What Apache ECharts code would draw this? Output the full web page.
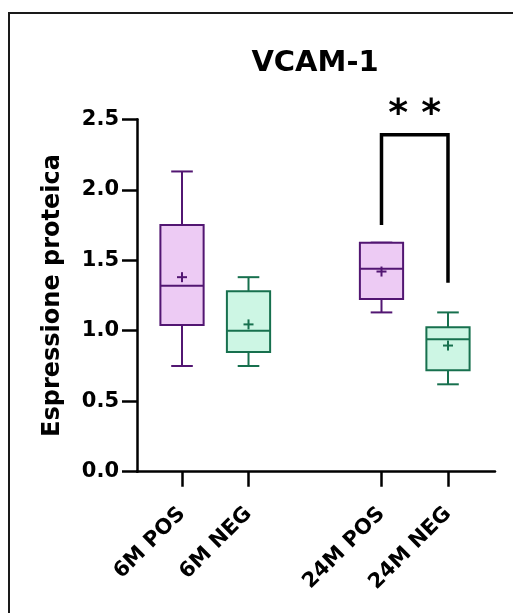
<!DOCTYPE html>
<html>
<head>
<meta charset="utf-8">
<script src="https://cdn.jsdelivr.net/npm/echarts@6/dist/echarts.min.js"></script>
<style>
html,body{margin:0;padding:0;background:#fff;}
#chart{width:513px;height:613px;}
</style>
</head>
<body>
<div id="chart"></div>
<script>
// ---- data ----
const categories = ['6M POS', '6M NEG', '24M POS', '24M NEG'];
const positions  = [0, 1, 3, 4];
const mins    = [0.75, 0.75, 1.13, 0.62];
const q1s     = [1.04, 0.85, 1.225, 0.72];
const medians = [1.32, 1.00, 1.44, 0.94];
const q3s     = [1.75, 1.28, 1.625, 1.025];
const maxs    = [2.13, 1.38, 1.625, 1.13];
const means   = [1.38, 1.045, 1.42, 0.895];
const groupOfBox = [0, 1, 0, 1];
const yTicks = [0, 0.5, 1.0, 1.5, 2.0, 2.5];
// significance bracket: x positions (left,right), y values (left end, top, right end)
const bracketX = [3, 4];
const bracketY = [1.75, 2.39, 1.34];
const bracketLabel = '* *';

const FONT = 'DejaVu Sans';
const strokeColors = ['#521672', '#17704E'];
const fillColors   = ['#EDCBF4', '#CDF6E4'];

const boxData = positions.map((p, i) => [p, mins[i], q1s[i], medians[i], q3s[i], maxs[i], means[i], groupOfBox[i]]);

const chart = echarts.init(document.getElementById('chart'), null, {renderer: 'canvas'});

function renderBox(params, api) {
  const x = api.value(0);
  const g = api.value(7);
  const stroke = strokeColors[g], fill = fillColors[g];
  const unit = api.size([1, 0])[0];
  const hw = unit * 0.325;
  const cw = hw * 0.5;
  const pMin = api.coord([x, api.value(1)]);
  const pQ1 = api.coord([x, api.value(2)]);
  const pMed = api.coord([x, api.value(3)]);
  const pQ3 = api.coord([x, api.value(4)]);
  const pMax = api.coord([x, api.value(5)]);
  const pMean = api.coord([x, api.value(6)]);
  const cx = pMed[0];
  const ls = {stroke: stroke, lineWidth: 2, fill: null};
  const children = [
    {type: 'line', shape: {x1: cx, y1: pMax[1], x2: cx, y2: pQ3[1]}, style: ls},
    {type: 'line', shape: {x1: cx - cw, y1: pMax[1], x2: cx + cw, y2: pMax[1]}, style: ls},
    {type: 'line', shape: {x1: cx, y1: pMin[1], x2: cx, y2: pQ1[1]}, style: ls},
    {type: 'line', shape: {x1: cx - cw, y1: pMin[1], x2: cx + cw, y2: pMin[1]}, style: ls},
    {type: 'rect', shape: {x: cx - hw, y: pQ3[1], width: 2 * hw, height: pQ1[1] - pQ3[1]},
      style: {fill: fill, stroke: stroke, lineWidth: 2}},
    {type: 'line', shape: {x1: cx - hw, y1: pMed[1], x2: cx + hw, y2: pMed[1]}, style: ls},
    {type: 'line', shape: {x1: cx - 5, y1: pMean[1], x2: cx + 5, y2: pMean[1]}, style: ls},
    {type: 'line', shape: {x1: cx, y1: pMean[1] - 5, x2: cx, y2: pMean[1] + 5}, style: ls}
  ];
  return {type: 'group', children: children};
}

function renderBracket(params, api) {
  const pL = api.coord([api.value(0), api.value(2)]);
  const pLT = api.coord([api.value(0), api.value(3)]);
  const pRT = api.coord([api.value(1), api.value(3)]);
  const pR = api.coord([api.value(1), api.value(4)]);
  const st = {stroke: '#000', lineWidth: 3.5, fill: null, lineJoin: 'miter'};
  return {type: 'group', children: [
    {type: 'polyline', shape: {points: [pL, pLT, pRT, pR]}, style: st},
    {type: 'text', x: (pLT[0] + pRT[0]) / 2, y: pLT[1] - 20,
      style: {text: bracketLabel, font: 'bold 38px "' + FONT + '"', fill: '#000', align: 'center', verticalAlign: 'middle'}}
  ]};
}

const option = {
  backgroundColor: '#fff',
  animation: false,
  grid: {left: 137, right: 18, top: 119.3, bottom: 141.3},
  xAxis: {
    type: 'value', min: -0.677, max: 4.707,
    splitLine: {show: false},
    axisLine: {show: true, onZero: false, lineStyle: {color: '#000', width: 2.5}},
    axisTick: {show: true, customValues: positions, length: 15, lineStyle: {color: '#000', width: 2.5}},
    axisLabel: {
      customValues: positions, rotate: 45, margin: 39,
      formatter: v => categories[positions.indexOf(v)] || '',
      color: '#000', fontFamily: FONT, fontWeight: 'bold', fontSize: 21
    }
  },
  yAxis: {
    type: 'value', min: 0, max: 2.5, interval: 0.5,
    name: 'Espressione proteica', nameLocation: 'middle', nameGap: 72,
    nameTextStyle: {color: '#000', fontFamily: FONT, fontWeight: 'bold', fontSize: 24},
    splitLine: {show: false},
    axisLine: {show: true, onZero: false, lineStyle: {color: '#000', width: 2.5}},
    axisTick: {show: true, length: 15, lineStyle: {color: '#000', width: 2.5}},
    axisLabel: {
      margin: 18, color: '#000', fontFamily: FONT, fontWeight: 'bold', fontSize: 21,
      formatter: v => v.toFixed(1)
    }
  },
  graphic: [
    {type: 'rect', shape: {x: 9, y: 13, width: 600, height: 700}, style: {fill: null, stroke: '#1a1a1a', lineWidth: 2}, silent: true},
    {type: 'text', x: 315, y: 63, style: {text: 'VCAM-1', font: 'bold 29px "' + FONT + '"', fill: '#000', align: 'center', verticalAlign: 'middle'}}
  ],
  series: [
    {type: 'custom', renderItem: renderBox, data: boxData, encode: {x: 0, y: [1, 5]}, clip: false, z: 3},
    {type: 'custom', renderItem: renderBracket,
      data: [[bracketX[0], bracketX[1], bracketY[0], bracketY[1], bracketY[2]]],
      encode: {x: [0, 1], y: [2, 3, 4]}, clip: false, z: 4}
  ]
};
chart.setOption(option);
</script>
</body>
</html>
